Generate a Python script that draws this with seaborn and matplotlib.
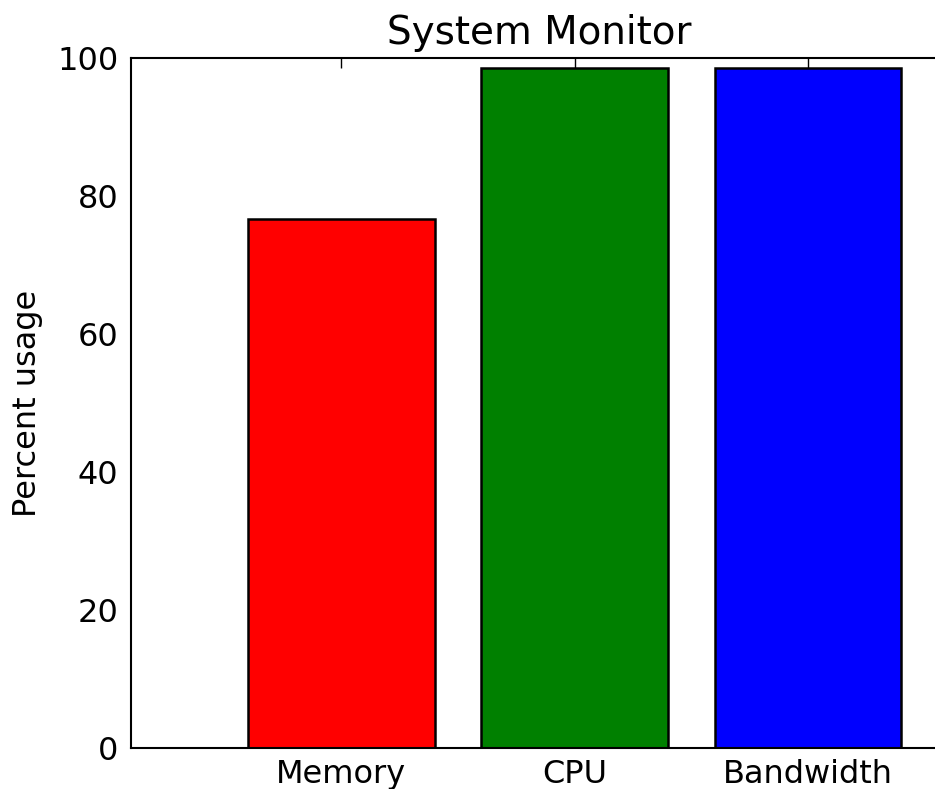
import matplotlib
matplotlib.use('Agg')
import matplotlib.pyplot as plt
import seaborn as sns
import pandas as pd

# values
resources = ['Memory', 'CPU', 'Bandwidth']
usage = [76.7, 98.5, 98.5]
colors = ['#ff0000', '#008000', '#0000ff']

df = pd.DataFrame({'Resource': resources, 'Usage': usage})

sns.set_style('white')
plt.rcParams['font.family'] = ['DejaVu Sans']
plt.rcParams['text.color'] = 'black'
plt.rcParams['axes.labelcolor'] = 'black'

fig = plt.figure(figsize=(9.35, 7.89), dpi=100)
# axes run a little past the right edge of the figure, as in the reference
ax = fig.add_axes([131 / 935, 41 / 789, 816 / 935, 690 / 789])

sns.barplot(data=df, x='Resource', y='Usage', hue='Resource', palette=colors,
            width=0.8, edgecolor='black', linewidth=1.8, saturation=1,
            legend=False, ax=ax)

ax.set_xlim(-0.9, 2.595)
ax.set_ylim(0, 100)
ax.set_yticks([0, 20, 40, 60, 80, 100])
ax.set_title('System Monitor', fontsize=28, color='black', pad=10)
ax.set_ylabel('Percent usage', fontsize=23, labelpad=10)
ax.set_xlabel('')
ax.tick_params(axis='both', labelsize=23, direction='in', length=7, width=1,
               top=True, right=True, colors='black', pad=9)
ax.tick_params(axis='x', pad=8)
for s in ax.spines.values():
    s.set_visible(True)
    s.set_color('black')
    s.set_linewidth(1.5)

fig.savefig('out.png', dpi=100)
